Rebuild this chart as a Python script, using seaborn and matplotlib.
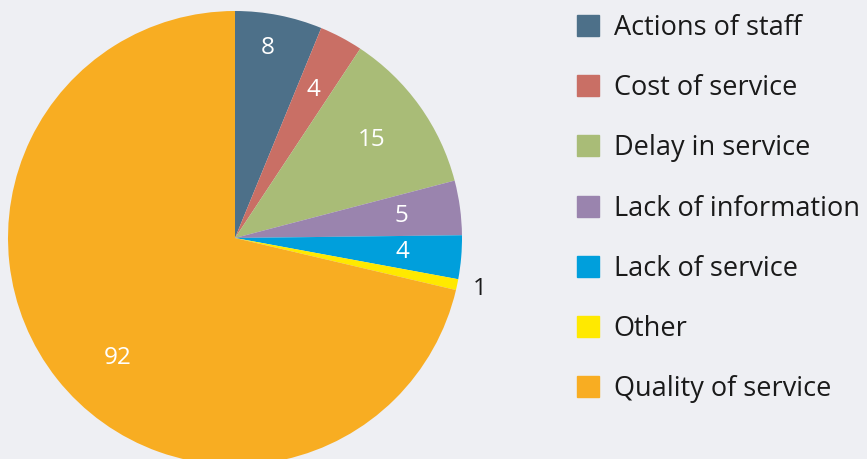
import numpy as np
import matplotlib
matplotlib.use("Agg")
import matplotlib.pyplot as plt
import matplotlib.patches as mpatches
import seaborn as sns

# ------------------------------------------------------------------ #
# Data
# ------------------------------------------------------------------ #
categories = [
    "Actions of staff",
    "Cost of service",
    "Delay in service",
    "Lack of information",
    "Lack of service",
    "Other",
    "Quality of service",
]
counts = [8, 4, 15, 5, 4, 1, 92]
slice_colors = ["#4D7089", "#C96F65", "#A9BC77", "#9A84AE",
                "#009FDC", "#FFE900", "#F8AD22"]

# label radius (fraction of pie radius), angle nudge (deg) and text colour per slice
label_radius = [0.85, 0.74, 0.74, 0.74, 0.74, 1.10, 0.74]
label_nudge = [1.5, 0, 0, 0, 0, 0, 7.3]
label_color = ["white", "white", "white", "white", "white", "#1a1a1a", "white"]

BG = "#EEEFF3"

sns.set_theme(style="white")
plt.rcParams["font.family"] = ["Open Sans", "DejaVu Sans"]

palette = sns.color_palette(slice_colors)

fig = plt.figure(figsize=(8.67, 4.59), dpi=100)
fig.patch.set_facecolor(BG)

# pie axes: centre at (235, 238) px, radius 227 px
W, H = 867, 459
cx, cy, r = 235, 459 - 238, 227
ax = fig.add_axes([(cx - r) / W, (cy - r) / H, 2 * r / W, 2 * r / H])
ax.set_facecolor(BG)

wedges, _ = ax.pie(
    counts,
    colors=palette,
    startangle=90,
    counterclock=False,
    radius=1.0,
    wedgeprops=dict(linewidth=0),
)
ax.set_xlim(-1, 1)
ax.set_ylim(-1, 1)
ax.set_aspect("equal")
ax.axis("off")

for w, val, rr, nd, tc in zip(wedges, counts, label_radius, label_nudge, label_color):
    ang = np.deg2rad((w.theta1 + w.theta2) / 2 + nd)
    ax.text(rr * np.cos(ang), rr * np.sin(ang), str(val),
            ha="center", va="center", fontsize=17.5, color=tc)

handles = [mpatches.Patch(color=c, label=l) for c, l in zip(palette, categories)]
leg = fig.legend(
    handles=handles,
    loc="upper left",
    bbox_to_anchor=(566 / W, 1 - 3 / H),
    frameon=False,
    fontsize=19.5,
    handlelength=0.81,
    handleheight=0.81,
    handletextpad=0.55,
    labelspacing=1.19,
    borderaxespad=0,
)
for t in leg.get_texts():
    t.set_color("#1a1a1a")

fig.savefig("out.png", dpi=100, facecolor=BG)
